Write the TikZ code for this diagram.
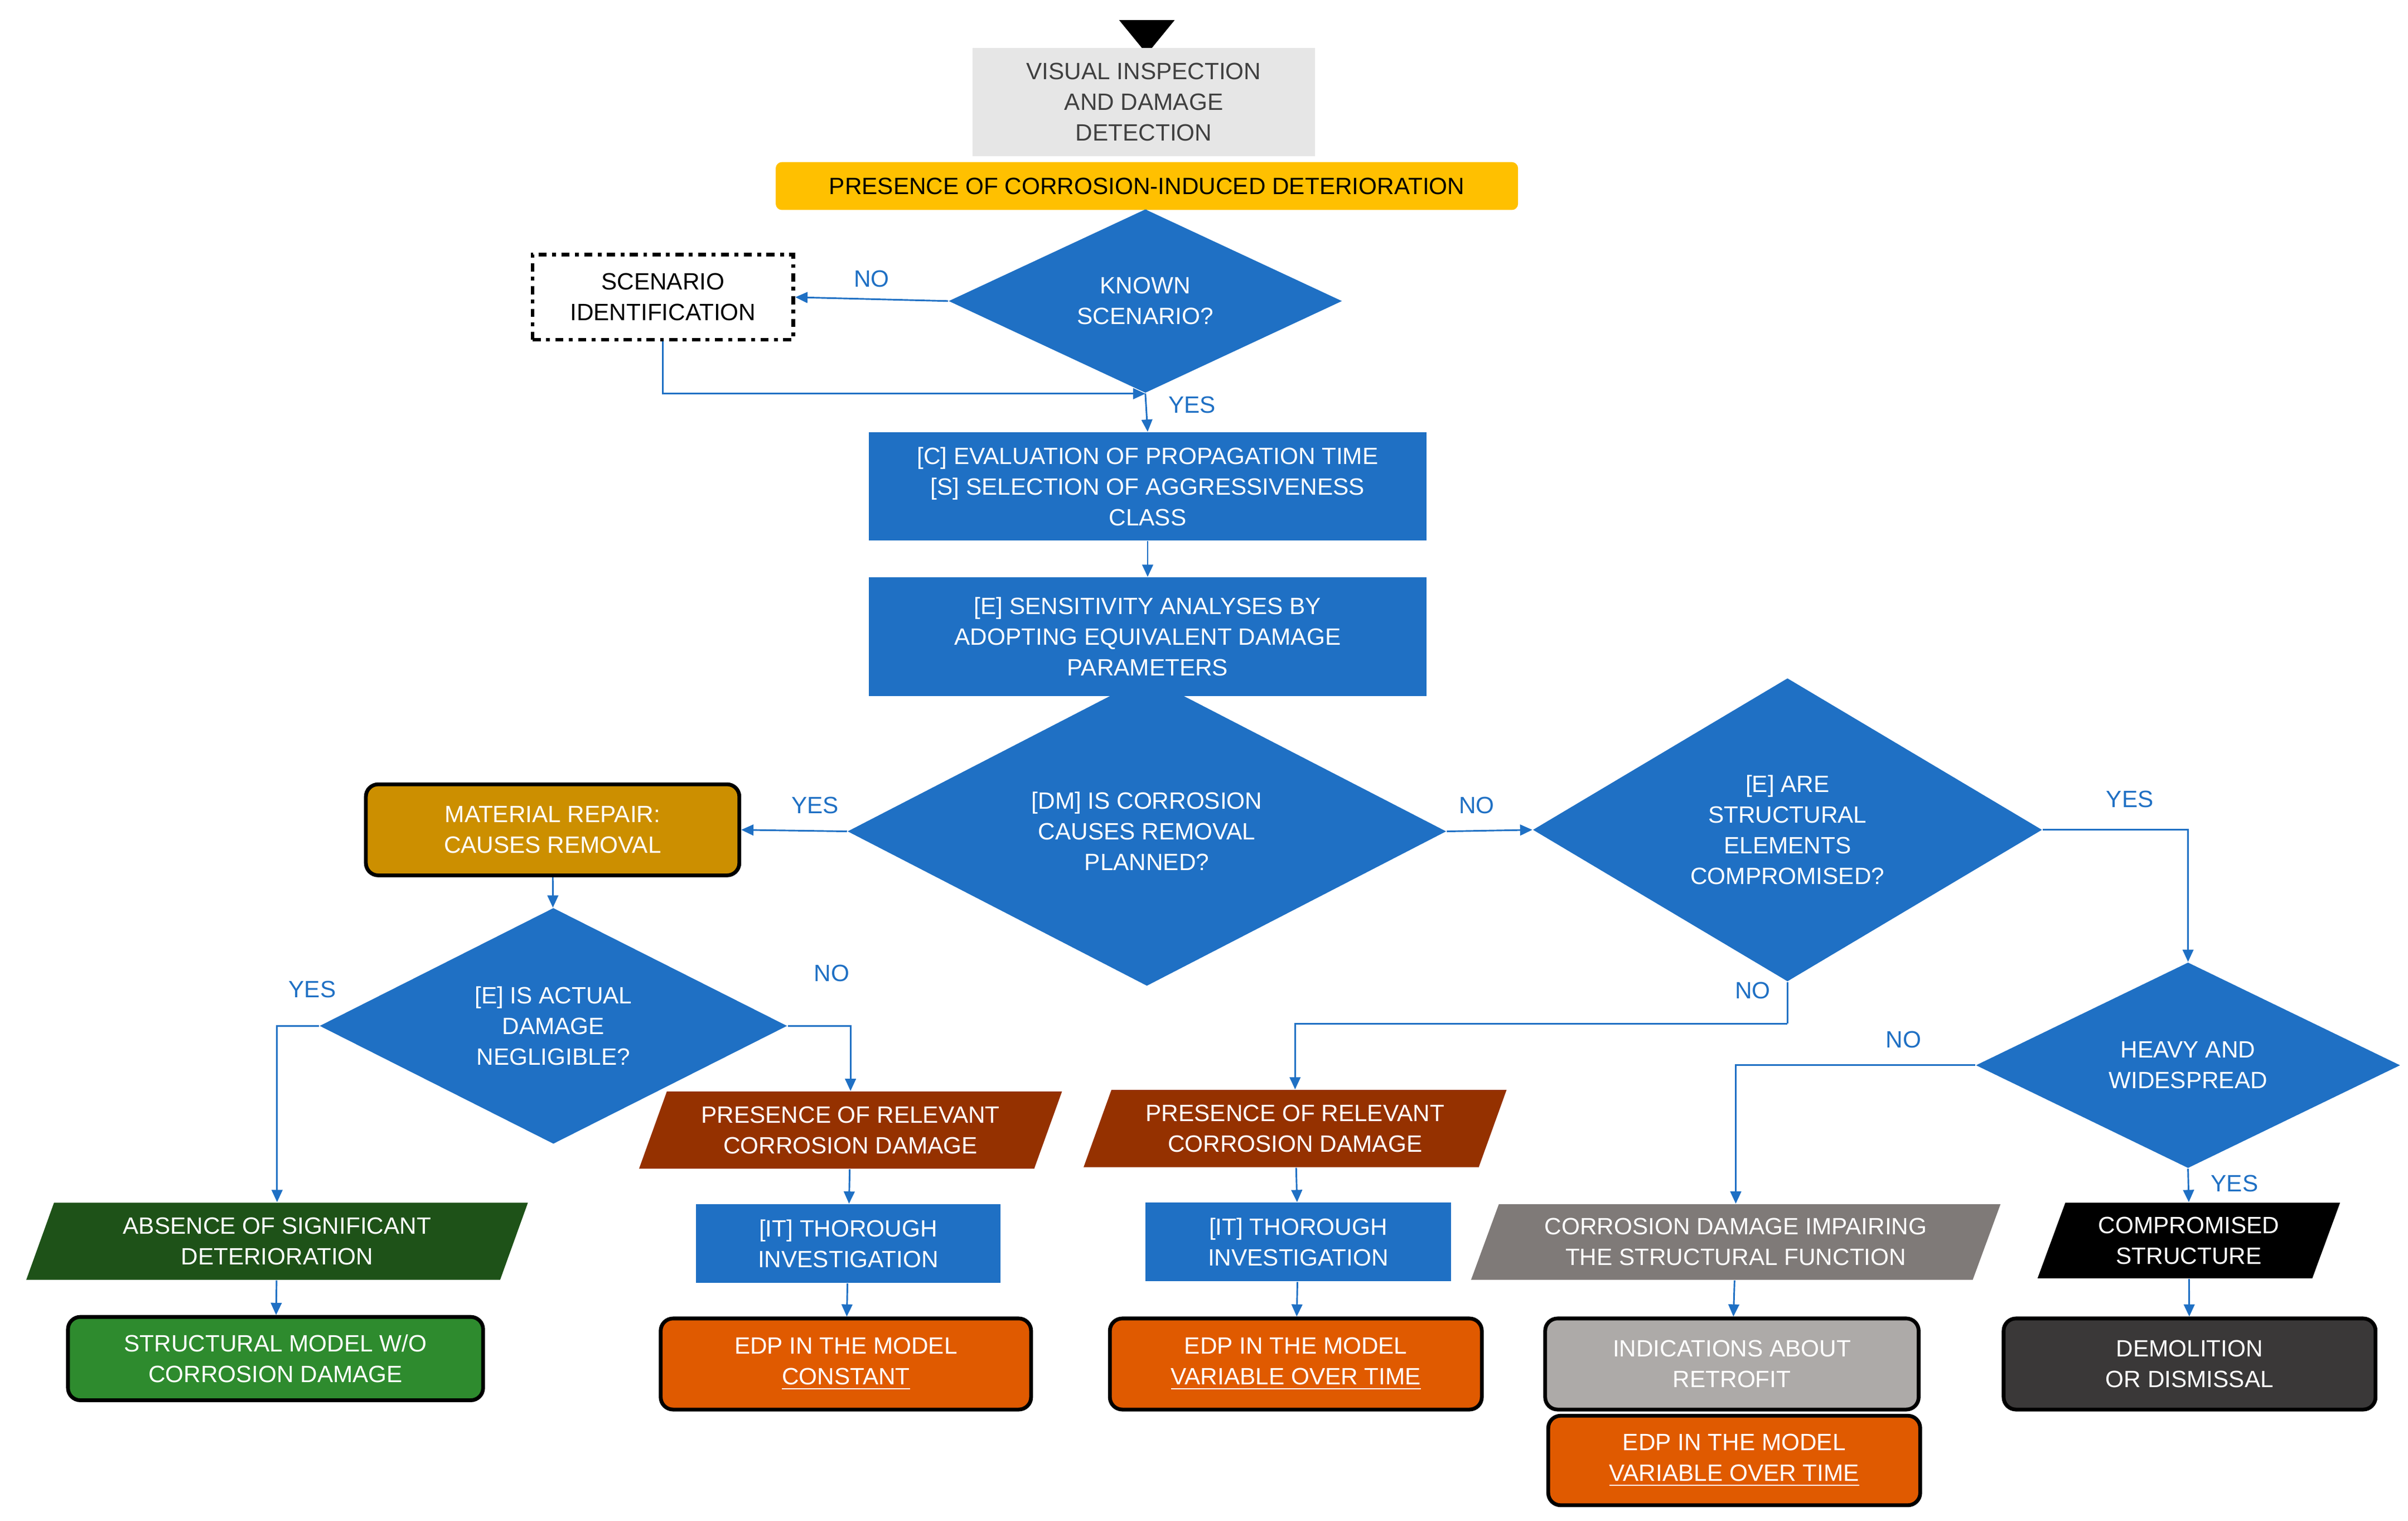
\documentclass[tikz,border=0pt]{standalone}
\usepackage{fontspec}
\setmainfont{Liberation Sans}
\usetikzlibrary{shapes.geometric,arrows.meta}
\definecolor{myblue}{HTML}{1F70C4}
\definecolor{ltgray}{HTML}{E6E6E6}
\definecolor{yel}{HTML}{FFC000}
\definecolor{gold}{HTML}{CC8F00}
\definecolor{dgreen}{HTML}{1E5218}
\definecolor{mgreen}{HTML}{2E8B2E}
\definecolor{brown}{HTML}{953100}
\definecolor{orng}{HTML}{E05A00}
\definecolor{pgray}{HTML}{7F7A78}
\definecolor{lgray}{HTML}{ADAAA8}
\definecolor{dgray}{HTML}{3A3838}
\tikzset{
  txt/.style={font=\fontsize{8.7}{11.3}\selectfont, align=center, inner sep=0pt},
  brect/.style={txt,fill=myblue,text=white},
  rbox/.style={txt,rounded corners=0.16cm,draw=black,line width=1.4pt,text=white},
  dia/.style={txt,diamond,fill=myblue,text=white},
  arr/.style={draw=myblue,line width=0.6pt,-{Triangle[length=4.5pt,width=4pt]}},
  ln/.style={draw=myblue,line width=0.6pt},
  lab/.style={txt,text=myblue}}
\newcommand\para[7]{%
  \fill[#6] ({#2-#4/2-9},{#3+#5/2}) -- ({#2+#4/2-9},{#3+#5/2}) -- ({#2+#4/2+9},{#3-#5/2}) -- ({#2-#4/2+9},{#3-#5/2}) -- cycle;
  \node[txt,text=white,minimum width=#4*0.02cm,minimum height=#5*0.02cm] (#1) at (#2,#3) {#7};}
\begin{document}
\begin{tikzpicture}[x=0.02cm,y=-0.02cm]
\useasboundingbox (0,0) rectangle (1560,985);
% top
\fill[black] (725,13) -- (761,13) -- (743,35) -- cycle;
\node[txt,fill=ltgray,text=black!75,minimum width=4.44cm,minimum height=1.4cm] (vis) at (741,66) {VISUAL INSPECTION\\AND DAMAGE\\DETECTION};
\node[txt,fill=yel,rounded corners=0.08cm,minimum width=9.62cm,minimum height=0.62cm] (pres) at (743,120.5) {PRESENCE OF CORROSION-INDUCED DETERIORATION};
\node[dia,minimum width=5.1cm,minimum height=1.52cm] (known) at (742,195) {KNOWN\\SCENARIO?};
\node[txt,draw=black,line width=1.4pt,dash dot,minimum width=3.38cm,minimum height=1.1cm] (scen) at (429.5,192.5) {SCENARIO\\IDENTIFICATION};
\node[brect,minimum width=7.22cm,minimum height=1.4cm] (cc) at (743.5,315) {[C] EVALUATION OF PROPAGATION TIME\\{}[S] SELECTION OF AGGRESSIVENESS\\CLASS};
\node[brect,minimum width=7.22cm,minimum height=1.54cm] (ee) at (743.5,412.5) {[E] SENSITIVITY ANALYSES BY\\ADOPTING EQUIVALENT DAMAGE\\PARAMETERS};
\node[dia,minimum width=7.76cm,minimum height=2.38cm] (dm) at (743,538.5) {[DM] IS CORROSION\\CAUSES REMOVAL\\PLANNED?};
\node[dia,minimum width=6.6cm,minimum height=2.82cm] (es) at (1158,537.5) {[E] ARE\\STRUCTURAL\\ELEMENTS\\COMPROMISED?};
\node[rbox,fill=gold,minimum width=4.84cm,minimum height=1.18cm] (mat) at (358,537.5) {MATERIAL REPAIR:\\CAUSES REMOVAL};
\node[dia,minimum width=6.06cm,minimum height=2.5cm] (act) at (358.5,664.5) {[E] IS ACTUAL\\DAMAGE\\NEGLIGIBLE?};
\node[dia,minimum width=5.5cm,minimum height=2.08cm] (heavy) at (1417.5,690) {HEAVY AND\\WIDESPREAD};
% left branch
\para{abs}{179.5}{804}{307}{50}{dgreen}{ABSENCE OF SIGNIFICANT\\DETERIORATION}
\node[rbox,fill=mgreen,minimum width=5.38cm,minimum height=1.08cm] (smod) at (178.5,880) {STRUCTURAL MODEL W/O\\CORROSION DAMAGE};
\para{rel1}{551}{732}{256}{50}{brown}{PRESENCE OF RELEVANT\\CORROSION DAMAGE}
\node[brect,minimum width=3.94cm,minimum height=1.02cm] (it1) at (549.5,805.5) {[IT] THOROUGH\\INVESTIGATION};
\node[rbox,fill=orng,minimum width=4.8cm,minimum height=1.18cm] (edp1) at (548,883.5) {EDP IN THE MODEL\\\underline{CONSTANT}};
% middle
\para{rel2}{839}{731}{256}{50}{brown}{PRESENCE OF RELEVANT\\CORROSION DAMAGE}
\node[brect,minimum width=3.96cm,minimum height=1.02cm] (it2) at (841,804.5) {[IT] THOROUGH\\INVESTIGATION};
\node[rbox,fill=orng,minimum width=4.82cm,minimum height=1.18cm] (edp2) at (839.5,883.5) {EDP IN THE MODEL\\\underline{VARIABLE OVER TIME}};
% right
\para{imp}{1124.5}{804.5}{325}{49}{pgray}{CORROSION DAMAGE IMPAIRING\\THE STRUCTURAL FUNCTION}
\node[rbox,fill=lgray,minimum width=4.84cm,minimum height=1.18cm] (ind) at (1122,883.5) {INDICATIONS ABOUT\\RETROFIT};
\node[rbox,fill=orng,minimum width=4.82cm,minimum height=1.16cm] (edp3) at (1123.5,946) {EDP IN THE MODEL\\\underline{VARIABLE OVER TIME}};
\para{comp}{1418}{803.5}{178}{49}{black}{COMPROMISED\\STRUCTURE}
\node[rbox,fill=dgray,minimum width=4.82cm,minimum height=1.18cm] (dem) at (1418.5,883.5) {DEMOLITION\\OR DISMISSAL};
% connectors
\draw[arr] (pres) -- (known);
\draw[arr] (known.west) -- (scen.east) node[lab,midway,above=4pt] {NO};
\coordinate (j1) at (742,255);
\draw[arr] (scen.south) |- (j1);
\draw[arr] (known.south) -- (cc.north) node[lab,pos=0.3,right=8pt] {YES};
\draw[arr] (cc) -- (ee);
\draw[arr] (ee) -- (dm);
\draw[arr] (dm.east) -- (es.west) node[lab,pos=0.35,above=6pt] {NO};
\draw[arr] (dm.west) -- (mat.east) node[lab,pos=0.3,above=6pt] {YES};
\draw[arr] (mat) -- (act);
\draw[arr] (act.west) -| (abs.north) node[lab,pos=0.08,above=10pt] {YES};
\draw[arr] (act.east) -| (rel1.north) node[lab,pos=0.35,above=16pt] {NO};
\draw[arr] (abs) -- (smod);
\draw[arr] (rel1) -- (it1);
\draw[arr] (it1) -- (edp1);
\coordinate (j2) at (1158,663);
\draw[ln] (es.south) -- (j2) node[lab,pos=0.2,left=6pt] {NO};
\draw[arr] (j2) -| (rel2.north);
\draw[arr] (es.east) -| (heavy.north) node[lab,pos=0.3,above=8pt] {YES};
\draw[arr] (rel2) -- (it2);
\draw[arr] (it2) -- (edp2);
\draw[arr] (heavy.west) -| (imp.north) node[lab,pos=0.15,above=6pt] {NO};
\draw[arr] (heavy.south) -- (comp.north) node[lab,pos=0.45,right=8pt] {YES};
\draw[arr] (imp) -- (ind);
\draw[arr] (comp) -- (dem);
\end{tikzpicture}
\end{document}
